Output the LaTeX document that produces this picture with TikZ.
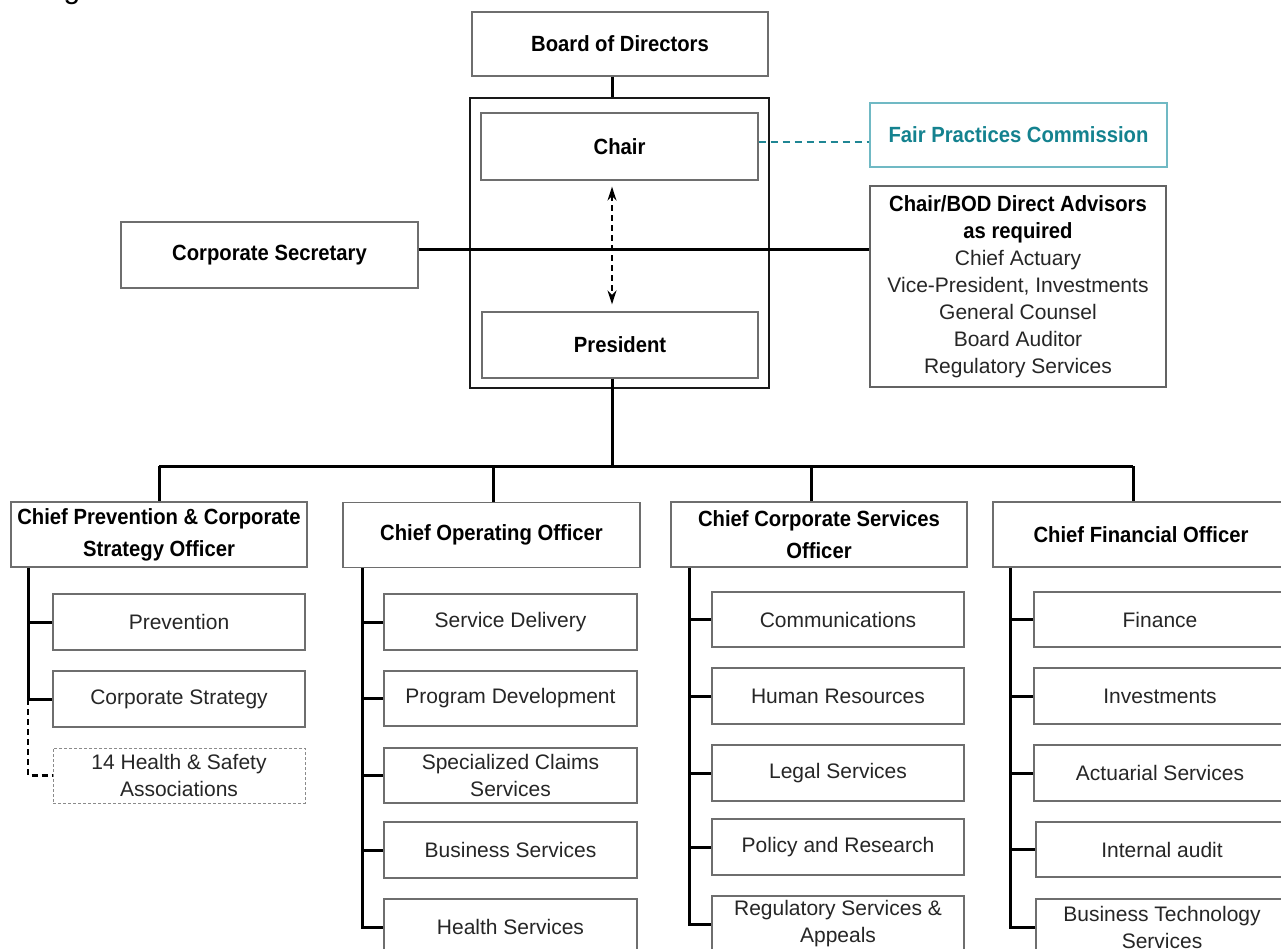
\documentclass[tikz,border=0pt]{standalone}
\usepackage{fontspec}
\setmainfont{Liberation Sans}
\newfontfamily\bcond[FakeStretch=0.92]{Liberation Sans}
\usetikzlibrary{arrows.meta,calc}
\definecolor{boxgray}{HTML}{6E6E6E}
\definecolor{txt}{HTML}{262626}
\definecolor{tealtxt}{HTML}{14828F}
\definecolor{tealline}{HTML}{1F8694}
\definecolor{tealbox}{HTML}{70B9C4}
\begin{document}
\begin{tikzpicture}[x=1pt,y=-1pt,
  box/.style={draw=boxgray, line width=1.3pt, fill=white, inner sep=0pt, align=center, text=txt, font=\fontsize{21}{27}\selectfont},
  bbox/.style={box, text=black, font=\bcond\bfseries\fontsize{22}{27}\selectfont},
  chief/.style={bbox, minimum width=296pt, minimum height=65pt, font=\bcond\bfseries\fontsize{22}{32}\selectfont},
  sub/.style={box, minimum width=252pt, minimum height=56pt},
  conn/.style={line width=3pt, black},
  dconn/.style={line width=2.5pt, black, dash pattern=on 6pt off 4pt},
  tealconn/.style={line width=2.2pt, tealline, dash pattern=on 7pt off 5pt},
  dbl/.style={line width=2pt, black, dash pattern=on 6pt off 4pt, {Stealth[length=14pt,width=9pt]}-{Stealth[length=14pt,width=9pt]}, shorten <=6pt, shorten >=7pt}
]
\useasboundingbox (0,0) rectangle (1281,949);
\clip (0,0) rectangle (1281,949);

% cut-off title fragment
\node[anchor=base, inner sep=0pt, font=\fontsize{30}{30}\selectfont] (frag) at (72,-1) {g};

% helper coordinates
\coordinate (sp) at (612,0);
\coordinate (hl) at (0,250);
\coordinate (fl) at (0,142);
\coordinate (bus) at (0,466);
\coordinate (d1) at (159,466);
\coordinate (d2) at (493,466);
\coordinate (d3) at (811,466);
\coordinate (d4) at (1133,466);
\coordinate (v1) at (28,0);
\coordinate (v2) at (362,0);
\coordinate (v3) at (689,0);
\coordinate (v4) at (1010,0);

% top nodes
\node[bbox, minimum width=296pt, minimum height=64pt] (bod) at (620,44) {Board of Directors};
\node[draw=black!90, line width=1.3pt, inner sep=0pt, minimum width=299pt, minimum height=290pt] (outer) at (619.5,243) {};
\node[bbox, minimum width=277pt, minimum height=67pt] (chair) at (619.5,146.5) {Chair};
\node[bbox, minimum width=276pt, minimum height=66pt] (pres) at (620,345) {President};
\node[bbox, minimum width=297pt, minimum height=66pt] (csec) at (269.5,255) {Corporate Secretary};
\node[bbox, draw=tealbox, text=tealtxt, minimum width=297pt, minimum height=64pt] (fpc) at (1018.5,135) {Fair Practices Commission};
\node[box, draw=boxgray!90!black, minimum width=296pt, minimum height=201pt] (adv) at (1018,286.5)
  {{\bcond\bfseries\fontsize{22}{27}\selectfont\color{black}Chair/BOD Direct Advisors}\\{\bcond\bfseries\fontsize{22}{27}\selectfont\color{black}as required}\\Chief Actuary\\Vice-President, Investments\\General Counsel\\Board Auditor\\Regulatory Services};

% chiefs
\node[chief] (c1) at (159,534.5) {Chief Prevention \& Corporate\\Strategy Officer};
\node[chief, minimum width=297pt] (c2) at (491.5,535) {Chief Operating Officer};
\node[chief] (c3) at (819,534.5) {Chief Corporate Services\\Officer};
\node[chief] (c4) at (1141,534.5) {Chief Financial Officer};

% column 1
\node[sub] (pv) at (179,622) {Prevention};
\node[sub] (cs) at (179,699) {Corporate Strategy};
\node[sub, minimum height=55pt, line width=0.9pt, dash pattern=on 3pt off 2pt, draw=boxgray!80] (hsa) at (179,775.5) {14 Health \& Safety\\Associations};

% column 2
\node[sub, minimum width=253pt] (sd) at (510.5,622) {Service Delivery};
\node[sub, minimum width=253pt, minimum height=55pt] (pd) at (510.5,698.5) {Program Development};
\node[sub, minimum width=253pt, minimum height=55pt] (sc) at (510.5,775.5) {Specialized Claims\\Services};
\node[sub, minimum width=253pt] (bs) at (510.5,850) {Business Services};
\node[sub, minimum width=253pt] (hs) at (510.5,927) {Health Services};

% column 3
\node[sub, minimum height=55pt] (cm) at (838,619.5) {Communications};
\node[sub] (hr) at (838,696) {Human Resources};
\node[sub] (ls) at (838,773) {Legal Services};
\node[sub] (pr) at (838,847) {Policy and Research};
\node[sub] (rs) at (838,924) {Regulatory Services \&\\Appeals};

% column 4
\node[sub, minimum height=55pt] (fi) at (1160,619.5) {Finance};
\node[sub] (inv) at (1160,696) {Investments};
\node[sub] (as) at (1160,773) {Actuarial Services};
\node[sub, minimum height=55pt] (ia) at (1162,849.5) {Internal audit};
\node[sub] (bt) at (1162,927) {Business Technology\\Services};

% top connectors
\draw[conn] (bod.south -| sp) -- (outer.north -| sp);
\draw[dbl] (chair.south -| sp) -- (pres.north -| sp);
\draw[conn] (csec.east |- hl) -- (adv.west |- hl);
\draw[tealconn] (chair.east |- fl) -- (fpc.west |- fl);
\draw[conn] (pres.south -| sp) -- (sp |- bus);
\draw[conn] (d1) -- (d4);
\draw[conn] (d1) -- (d1 |- c1.north);
\draw[conn] (d2) -- (d2 |- c2.north);
\draw[conn] (d3) -- (d3 |- c3.north);
\draw[conn] (d4) -- (d4 |- c4.north);

% column 1 connectors
\draw[conn] (c1.south -| v1) -- (v1 |- cs.west) -- (cs.west);
\draw[conn] (v1 |- pv.west) -- (pv.west);
\draw[dconn] (v1 |- cs.west) -- (v1 |- hsa.west) -- (hsa.west);

% column 2 connectors
\draw[conn] (c2.south -| v2) -- (v2 |- hs.west) -- (hs.west);
\foreach \n in {sd,pd,sc,bs} \draw[conn] (v2 |- \n.west) -- (\n.west);

% column 3 connectors
\draw[conn] (c3.south -| v3) -- (v3 |- rs.west) -- (rs.west);
\foreach \n in {cm,hr,ls,pr} \draw[conn] (v3 |- \n.west) -- (\n.west);

% column 4 connectors
\draw[conn] (c4.south -| v4) -- (v4 |- bt.west) -- (bt.west);
\foreach \n in {fi,inv,as,ia} \draw[conn] (v4 |- \n.west) -- (\n.west);
\end{tikzpicture}
\end{document}
